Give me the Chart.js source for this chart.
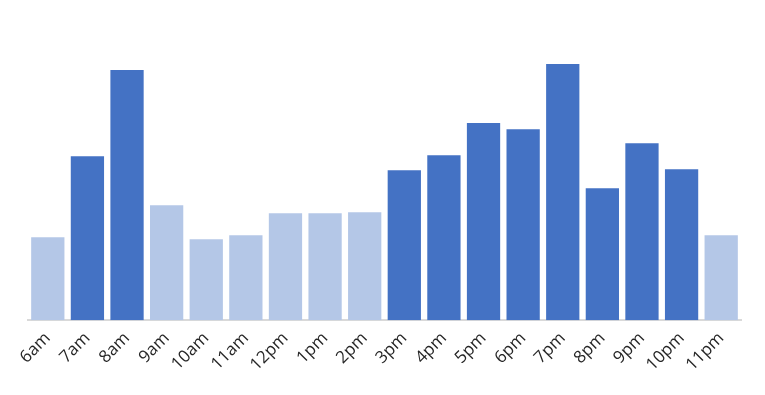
<!DOCTYPE html>
<html>
<head>
<meta charset="utf-8">
<script src="https://cdn.jsdelivr.net/npm/chart.js@4/dist/chart.umd.min.js"></script>
<style>
  html, body { margin: 0; padding: 0; background: #fff; }
  #wrap { width: 765px; height: 395px; }
</style>
</head>
<body>
<div id="wrap"><canvas id="c" width="765" height="395"></canvas></div>
<script>
const hours = ["6am","7am","8am","9am","10am","11am","12pm","1pm","2pm","3pm","4pm","5pm","6pm","7pm","8pm","9pm","10pm","11pm"];
const traffic = [83, 164, 250, 115, 81, 85, 107, 107, 108, 150, 165, 197, 191, 256, 132, 177, 151, 85];
const peakHours = ["7am","8am","3pm","4pm","5pm","6pm","7pm","8pm","9pm","10pm"];

const DARK = "#4472C4", LIGHT = "#B4C7E7";

new Chart(document.getElementById("c"), {
  type: "bar",
  data: {
    labels: hours,
    datasets: [{
      data: traffic,
      backgroundColor: hours.map(h => peakHours.includes(h) ? DARK : LIGHT),
      categoryPercentage: 1.0,
      barPercentage: 0.84
    }]
  },
  options: {
    responsive: false,
    animation: false,
    layout: { padding: { top: 20, left: 28, right: 24, bottom: 12 } },
    plugins: { legend: { display: false }, tooltip: { enabled: false } },
    scales: {
      y: { display: false, min: 0, max: 300 },
      x: {
        grid: { display: false, drawTicks: false },
        border: { display: true, color: "#d9d9d9", width: 2 },
        ticks: {
          color: "#262626",
          font: { family: "'Open Sans', 'Noto Sans', sans-serif", size: 17 },
          minRotation: 45, maxRotation: 45,
          padding: 8,
          autoSkip: false
        }
      }
    }
  }
});
</script>
</body>
</html>
